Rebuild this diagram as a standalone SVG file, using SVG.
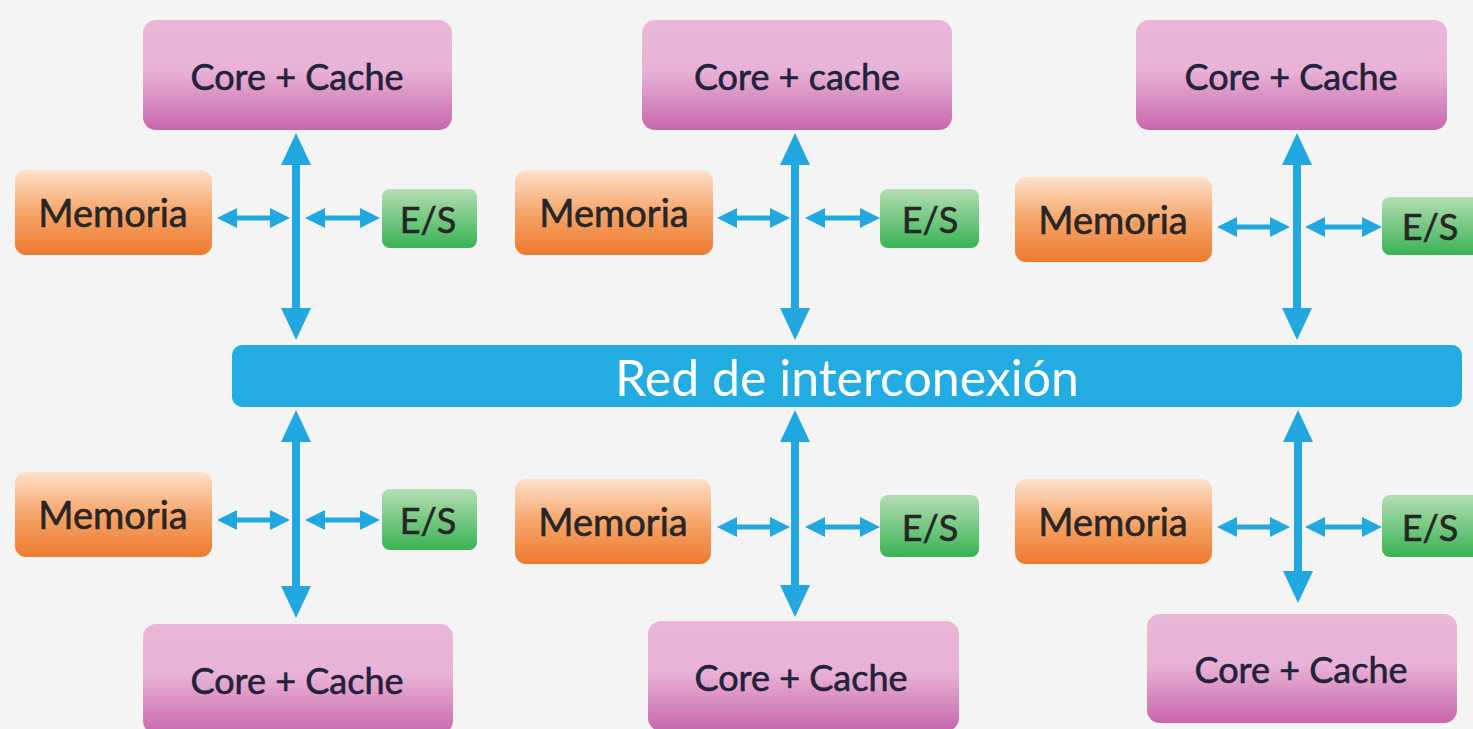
<svg xmlns="http://www.w3.org/2000/svg" width="1473" height="729" viewBox="0 0 1473 729">
<defs>
<linearGradient id="gCore" x1="0" y1="0" x2="0" y2="1">
<stop offset="0" stop-color="#eab7d8"/>
<stop offset="0.45" stop-color="#e8b3d6"/>
<stop offset="0.55" stop-color="#e3a6ce"/>
<stop offset="1" stop-color="#c867ad"/>
</linearGradient>
<linearGradient id="gMem" x1="0" y1="0" x2="0" y2="1">
<stop offset="0" stop-color="#fde1cb"/>
<stop offset="0.5" stop-color="#f6a56a"/>
<stop offset="1" stop-color="#ed7a2e"/>
</linearGradient>
<linearGradient id="gES" x1="0" y1="0" x2="0" y2="1">
<stop offset="0" stop-color="#b5deb5"/>
<stop offset="1" stop-color="#39b352"/>
</linearGradient>
<marker id="hv" viewBox="0 0 32 30" refX="2" refY="15" markerWidth="32" markerHeight="30" markerUnits="userSpaceOnUse" orient="auto-start-reverse">
<path d="M0,0 L32,15 L0,30 z" fill="#22a8e0"/>
</marker>
<marker id="hh" viewBox="0 0 20 20" refX="2" refY="10" markerWidth="20" markerHeight="20" markerUnits="userSpaceOnUse" orient="auto-start-reverse">
<path d="M0,0 L20,10 L0,20 z" fill="#22a8e0"/>
</marker>
</defs>
<style>
.core{fill:url(#gCore)}
.mem{fill:url(#gMem)}
.es{fill:url(#gES)}
.t{font-family:Lato,"Liberation Sans",sans-serif;font-size:36px;text-anchor:middle;dominant-baseline:central;fill:#23223a;stroke:#23223a;stroke-width:0.6}
.tm{font-family:Lato,"Liberation Sans",sans-serif;font-size:38px;text-anchor:middle;dominant-baseline:central;fill:#262626;stroke:#262626;stroke-width:0.6}
.te{font-family:Lato,"Liberation Sans",sans-serif;font-size:36px;text-anchor:middle;dominant-baseline:central;fill:#262626;stroke:#262626;stroke-width:0.6}
.bar{font-family:Lato,"Liberation Sans",sans-serif;font-size:50px;text-anchor:middle;dominant-baseline:central;fill:#ffffff}
.v{stroke:#22a8e0;stroke-width:8;marker-start:url(#hv);marker-end:url(#hv)}
.h{stroke:#22a8e0;stroke-width:5;marker-start:url(#hh);marker-end:url(#hh)}
</style>
<rect width="1473" height="729" fill="#f4f4f4"/>

<g id="connectors">
<line class="v" x1="296" y1="163" x2="296" y2="310"/>
<line class="h" x1="235" y1="218" x2="272" y2="218"/>
<line class="h" x1="323" y1="218" x2="362" y2="218"/>
<line class="v" x1="795" y1="163" x2="795" y2="310"/>
<line class="h" x1="735" y1="218" x2="772" y2="218"/>
<line class="h" x1="823" y1="218" x2="862" y2="218"/>
<line class="v" x1="1297" y1="163" x2="1297" y2="310"/>
<line class="h" x1="1235" y1="227" x2="1272" y2="227"/>
<line class="h" x1="1323" y1="227" x2="1364" y2="227"/>

<line class="v" x1="296" y1="440" x2="296" y2="588"/>
<line class="h" x1="235" y1="520" x2="272" y2="520"/>
<line class="h" x1="323" y1="520" x2="362" y2="520"/>
<line class="v" x1="795" y1="440" x2="795" y2="587"/>
<line class="h" x1="735" y1="527" x2="772" y2="527"/>
<line class="h" x1="823" y1="527" x2="862" y2="527"/>
<line class="v" x1="1298" y1="440" x2="1298" y2="573"/>
<line class="h" x1="1235" y1="527" x2="1272" y2="527"/>
<line class="h" x1="1323" y1="527" x2="1364" y2="527"/>
</g>

<g id="red">
<rect x="232" y="345" width="1230" height="62" rx="10" fill="#22ace2"/>
<text class="bar" x="847" y="377">Red de interconexión</text>
</g>

<g id="core-tl"><rect class="core" x="143" y="20" width="309" height="110" rx="13"/><text class="t" x="297" y="76">Core + Cache</text></g>
<g id="core-tm"><rect class="core" x="642" y="20" width="310" height="110" rx="13"/><text class="t" x="797" y="76">Core + cache</text></g>
<g id="core-tr"><rect class="core" x="1136" y="20" width="311" height="110" rx="13"/><text class="t" x="1291" y="76">Core + Cache</text></g>

<g id="mem-tl"><rect class="mem" x="15" y="170" width="197" height="85" rx="11"/><text class="tm" x="113" y="212">Memoria</text></g>
<g id="mem-tm"><rect class="mem" x="515" y="170" width="198" height="85" rx="11"/><text class="tm" x="614" y="212">Memoria</text></g>
<g id="mem-tr"><rect class="mem" x="1015" y="177" width="197" height="85" rx="11"/><text class="tm" x="1113" y="219">Memoria</text></g>

<g id="es-tl"><rect class="es" x="382" y="189" width="95" height="59" rx="8"/><text class="te" x="428" y="219">E/S</text></g>
<g id="es-tm"><rect class="es" x="880" y="189" width="99" height="59" rx="8"/><text class="te" x="930" y="219">E/S</text></g>
<g id="es-tr"><rect class="es" x="1382" y="197" width="100" height="58" rx="8"/><text class="te" x="1430" y="226">E/S</text></g>

<g id="mem-bl"><rect class="mem" x="15" y="472" width="197" height="85" rx="11"/><text class="tm" x="113" y="514">Memoria</text></g>
<g id="mem-bm"><rect class="mem" x="515" y="479" width="196" height="85" rx="11"/><text class="tm" x="613" y="521">Memoria</text></g>
<g id="mem-br"><rect class="mem" x="1015" y="479" width="197" height="85" rx="11"/><text class="tm" x="1113" y="521">Memoria</text></g>

<g id="es-bl"><rect class="es" x="382" y="489" width="95" height="61" rx="8"/><text class="te" x="428" y="520">E/S</text></g>
<g id="es-bm"><rect class="es" x="880" y="495" width="99" height="62" rx="8"/><text class="te" x="930" y="527">E/S</text></g>
<g id="es-br"><rect class="es" x="1382" y="495" width="100" height="62" rx="8"/><text class="te" x="1430" y="527">E/S</text></g>

<g id="core-bl"><rect class="core" x="143" y="624" width="310" height="110" rx="13"/><text class="t" x="297" y="680">Core + Cache</text></g>
<g id="core-bm"><rect class="core" x="648" y="621" width="311" height="110" rx="13"/><text class="t" x="801" y="677">Core + Cache</text></g>
<g id="core-br"><rect class="core" x="1147" y="614" width="310" height="109" rx="13"/><text class="t" x="1301" y="669">Core + Cache</text></g>
</svg>
